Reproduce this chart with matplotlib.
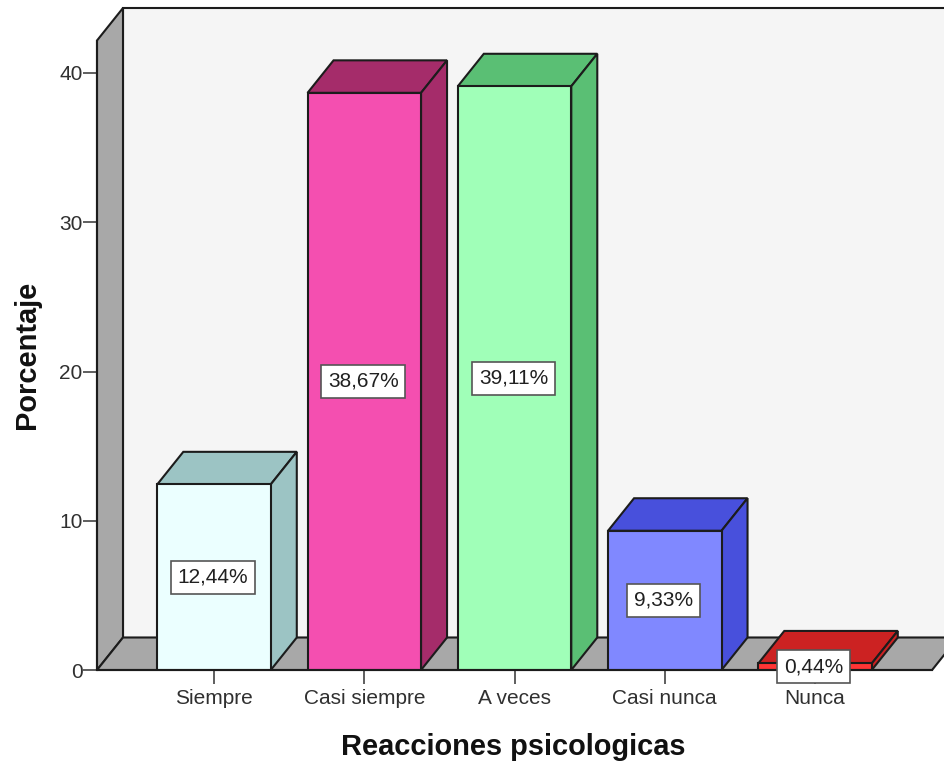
import matplotlib
matplotlib.use('Agg')
import matplotlib.pyplot as plt
from matplotlib.patches import Polygon

plt.rcParams['font.family'] = ['Liberation Sans', 'DejaVu Sans']

categories = ['Siempre', 'Casi siempre', 'A veces', 'Casi nunca', 'Nunca']
values = [12.44, 38.67, 39.11, 9.33, 0.44]
labels = ['12,44%', '38,67%', '39,11%', '9,33%', '0,44%']
y_ticks = [0, 10, 20, 30, 40]

front_colors = ['#ebffff', '#f44fb0', '#a0ffb8', '#8088ff', '#ff3535']
side_colors = ['#9cc4c4', '#a52c6a', '#5abf74', '#4850dc', '#cc2222']

edge = '#1c1c1c'
W, H = 945, 761
px_x = 150.25  # pixels per category
px_y = 14.925  # pixels per percent

fig = plt.figure(figsize=(W / 100, H / 100), dpi=100, facecolor='white')
ax = fig.add_axes([97 / W, (H - 670) / H, 848 / W, 662 / H])
ax.set_facecolor('none')

x0, x1 = -0.779, 4.865
xfront = 4.779
ytop = 662 / px_y
ax.set_xlim(x0, x1)
ax.set_ylim(0, ytop)

# profundidad del efecto 3D
dx = 26 / px_x
dy = 32.5 / px_y

# paredes y piso
wall_top = ytop - dy
ax.add_patch(Polygon([(x0 + dx, dy), (x1 + dx, dy), (x1 + dx, ytop), (x0 + dx, ytop)],
                     fc='#f5f5f5', ec=edge, lw=1.5, zorder=1, clip_on=False))
ax.add_patch(Polygon([(x0, 0), (x0 + dx, dy), (x0 + dx, ytop), (x0, wall_top)],
                     fc='#a8a8a8', ec=edge, lw=1.5, zorder=2, clip_on=False))
ax.add_patch(Polygon([(x0, 0), (x0 + dx, dy), (xfront + dx, dy), (xfront, 0)],
                     fc='#a8a8a8', ec=edge, lw=1.5, zorder=2, clip_on=False))

# barras
width = 113.5 / px_x
xs = list(range(len(categories)))
for i in xs:
    v = values[i]
    left = i - width / 2
    right = i + width / 2
    ax.add_patch(Polygon([(left, v), (left + dx, v + dy), (right + dx, v + dy), (right, v)],
                         fc=side_colors[i], ec=edge, lw=1.5, zorder=3, clip_on=False))
    ax.add_patch(Polygon([(right, 0), (right + dx, dy), (right + dx, v + dy), (right, v)],
                         fc=side_colors[i], ec=edge, lw=1.5, zorder=3, clip_on=False))
ax.bar(xs, values, width, color=front_colors, edgecolor=edge, linewidth=1.5, zorder=4)

for i in xs:
    ax.text(i - 0.007, values[i] / 2, labels[i], ha='center', va='center', fontsize=15,
            color='#202020', zorder=6,
            bbox=dict(boxstyle='square,pad=0.33', fc='white', ec='#555555', lw=1.2))

ax.spines['top'].set_visible(False)
ax.spines['right'].set_visible(False)
ax.spines['left'].set_bounds(0, wall_top)
ax.spines['bottom'].set_bounds(x0, xfront)
for s in ['left', 'bottom']:
    ax.spines[s].set_linewidth(1.5)
    ax.spines[s].set_color(edge)
    ax.spines[s].set_zorder(5)

ax.set_xticks(xs)
ax.set_xticklabels(categories)
ax.set_yticks(y_ticks)
ax.tick_params(axis='both', length=10, width=1.1, color='#333333', labelcolor='#303030',
               labelsize=15, pad=3.5)
ax.tick_params(axis='y', pad=0.5, labelsize=15)

ax.set_xlabel('Reacciones psicologicas', fontsize=20.9, fontweight='bold', color='#111111', va='center')
ax.xaxis.set_label_coords(0.4906, -0.117)
ax.set_ylabel('Porcentaje', fontsize=20.9, fontweight='bold', color='#111111', va='center')
ax.yaxis.set_label_coords(-0.0825, 0.476)

fig.savefig('out.png', dpi=100)
